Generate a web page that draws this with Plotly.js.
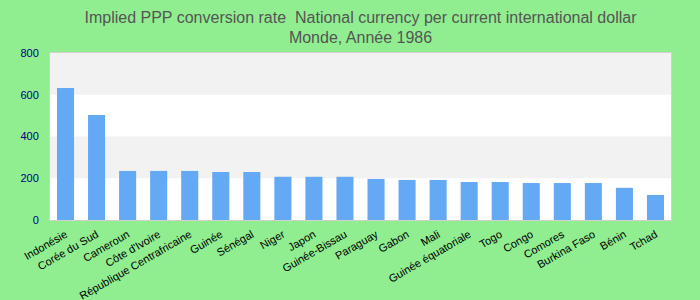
<!DOCTYPE html>
<html>
<head>
<meta charset="utf-8">
<script src="https://cdn.plot.ly/plotly-3.0.1.min.js"></script>
<style>
html,body{margin:0;padding:0;background:#90ee90;}
#chart{width:700px;height:300px;outline:2px solid #22dd22;outline-offset:-2px;}
</style>
</head>
<body>
<div id="chart"></div>
<script>
const countries = ["Indonésie","Corée du Sud","Cameroun","Côte d'Ivoire","République Centrafricaine","Guinée","Sénégal","Niger","Japon","Guinée-Bissau","Paraguay","Gabon","Mali","Guinée équatoriale","Togo","Congo","Comores","Burkina Faso","Bénin","Tchad"];
const values = [632, 503, 235, 235, 235, 230, 230, 207, 207, 207, 197, 192, 192, 182, 182, 177, 177, 177, 154, 120];
const yTicks = [0, 200, 400, 600, 800];

const bandShapes = [];
for (let i = 1; i < yTicks.length - 1; i += 2) {
  bandShapes.push({type:'rect', xref:'paper', yref:'y', x0:0, x1:1, y0:yTicks[i], y1:yTicks[i+1],
    fillcolor:'#f2f2f2', line:{width:0}, layer:'below'});
}

const trace = {
  type:'bar', x:countries, y:values,
  marker:{color:'#63a9f4'},
  hoverinfo:'x+y'
};

const layout = {
  width:700, height:300,
  paper_bgcolor:'#90ee90', plot_bgcolor:'#ffffff',
  margin:{l:50, r:29, t:53, b:80},
  font:{family:'Liberation Sans, Arial, sans-serif'},
  title:{text:'Implied PPP conversion rate  National currency per current international dollar<br>Monde, Année 1986',
    font:{size:16, color:'#555555'}, x:0.5, xref:'paper', y:0.925, yanchor:'top'},
  bargap:0.45,
  showlegend:false,
  shapes:bandShapes,
  xaxis:{tickangle:-30, tickfont:{size:11, color:'#000000'}, showline:true, mirror:true, linecolor:'#d0d0d0', linewidth:1,
    ticks:'', showgrid:false, ticklabelstandoff:3},
  yaxis:{range:[0,800], tickvals:yTicks, ticktext:yTicks.map(String), tickfont:{size:11, color:'#000080'},
    showline:true, mirror:true, linecolor:'#d0d0d0', linewidth:1, showgrid:false, zeroline:false, ticks:'', ticklabelstandoff:8}
};

Plotly.newPlot('chart', [trace], layout, {displayModeBar:false, staticPlot:true});
</script>
</body>
</html>
